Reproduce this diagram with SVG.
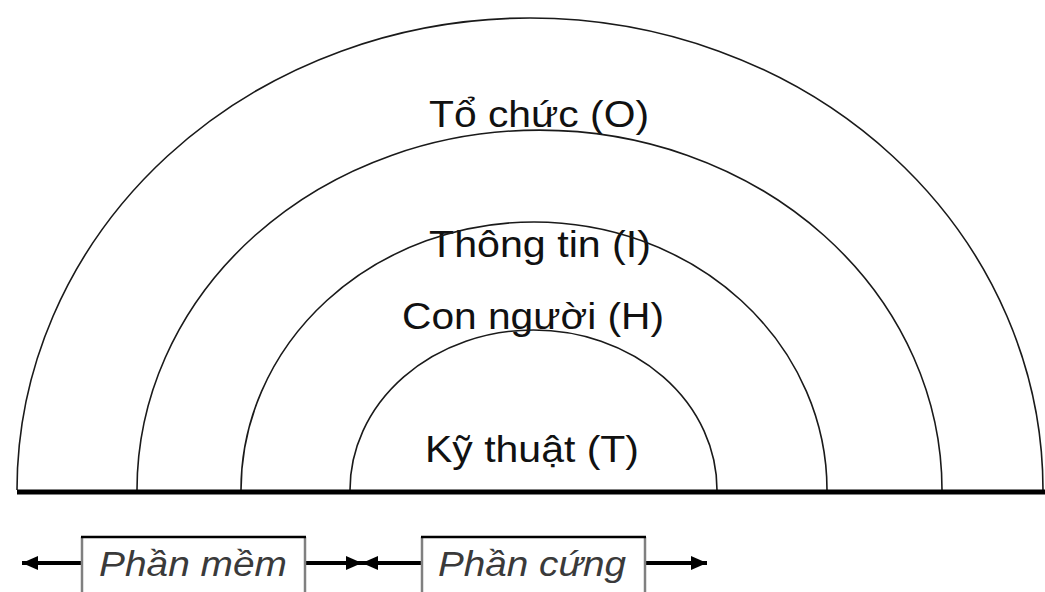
<svg xmlns="http://www.w3.org/2000/svg" width="1045" height="592" viewBox="0 0 1045 592">
  <style>
    .arc { fill: none; stroke: #1a1a1a; stroke-width: 1.6; }
    .lbl { font-family: "Liberation Sans", Arial, sans-serif; font-size: 36px; fill: #111; text-anchor: middle; }
    .box-text { font-family: "Liberation Sans", Arial, sans-serif; font-size: 35px; font-style: italic; fill: #3a3a3a; text-anchor: middle; }
    .axis { stroke: #000; stroke-width: 5; }
    .span { stroke: #000; stroke-width: 4; fill: none; }
    .box-bg { fill: #fff; }
    .box-top { stroke: #000; stroke-width: 2.5; }
    .box-side { stroke: #808080; stroke-width: 2.5; }
  </style>
  <defs>
    <marker id="head" viewBox="0 0 16 14" refX="16" refY="7" markerWidth="16" markerHeight="14" markerUnits="userSpaceOnUse" orient="auto-start-reverse">
      <path d="M0 0 L16 7 L0 14 Z" fill="#000"/>
    </marker>
  </defs>
  <rect width="1045" height="592" fill="#fff"/>

  <!-- nested layers -->
  <g id="layer-O">
    <path class="arc" d="M17 490 A513 472 0 0 1 1043 490"/>
    <text class="lbl" x="539" y="127" textLength="220" lengthAdjust="spacingAndGlyphs">Tổ chức (O)</text>
  </g>
  <g id="layer-I">
    <path class="arc" d="M137 490 A402.5 360 0 0 1 942 490"/>
    <text class="lbl" x="540" y="257" textLength="222" lengthAdjust="spacingAndGlyphs">Thông tin (I)</text>
  </g>
  <g id="layer-H">
    <path class="arc" d="M241 490 A293 268 0 0 1 827 490"/>
    <text class="lbl" x="533" y="329" textLength="262" lengthAdjust="spacingAndGlyphs">Con người (H)</text>
  </g>
  <g id="layer-T">
    <path class="arc" d="M350 490 A183.5 160 0 0 1 717 490"/>
    <text class="lbl" x="532" y="462" textLength="214" lengthAdjust="spacingAndGlyphs">Kỹ thuật (T)</text>
  </g>

  <!-- base line -->
  <line class="axis" x1="17" y1="492" x2="1045" y2="492"/>

  <g id="connectors">
    <line class="span" x1="22" y1="563" x2="362" y2="563" marker-start="url(#head)" marker-end="url(#head)"/>
    <line class="span" x1="362" y1="563" x2="707" y2="563" marker-start="url(#head)" marker-end="url(#head)"/>
  </g>

  <g id="software">
    <rect class="box-bg" x="82" y="537" width="223" height="60"/>
    <line class="box-side" x1="82" y1="537" x2="82" y2="592"/>
    <line class="box-side" x1="305" y1="537" x2="305" y2="592"/>
    <line class="box-top" x1="81" y1="537" x2="306" y2="537"/>
    <text class="box-text" x="193" y="576" textLength="188" lengthAdjust="spacingAndGlyphs">Phần mềm</text>
  </g>
  <g id="hardware">
    <rect class="box-bg" x="422" y="537" width="223" height="60"/>
    <line class="box-side" x1="422" y1="537" x2="422" y2="592"/>
    <line class="box-side" x1="645" y1="537" x2="645" y2="592"/>
    <line class="box-top" x1="421" y1="537" x2="646" y2="537"/>
    <text class="box-text" x="532" y="576" textLength="188" lengthAdjust="spacingAndGlyphs">Phần cứng</text>
  </g>
</svg>
